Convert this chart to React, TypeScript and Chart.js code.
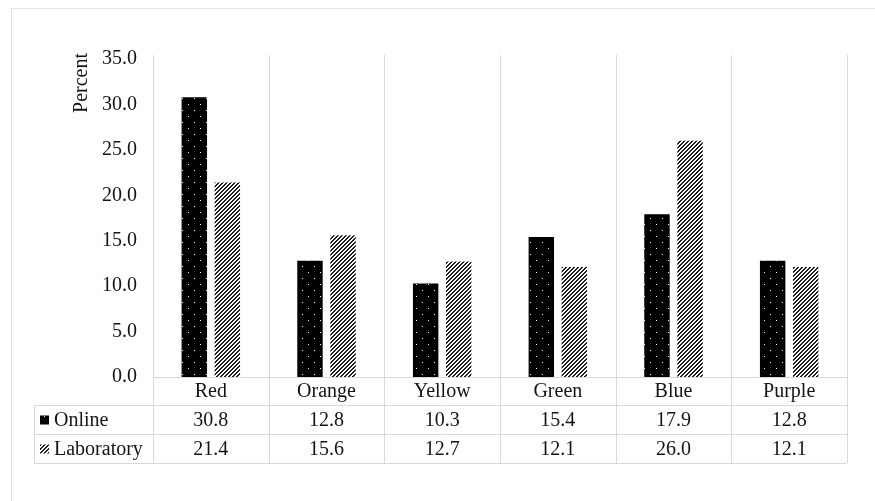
import React, { useEffect, useRef } from "react";
import { Chart, registerables } from "chart.js";

Chart.register(...registerables);

const categories = ["Red", "Orange", "Yellow", "Green", "Blue", "Purple"];
const online = [30.8, 12.8, 10.3, 15.4, 17.9, 12.8];
const laboratory = [21.4, 15.6, 12.7, 12.1, 26.0, 12.1];
const seriesNames = ["Online", "Laboratory"];
const yMin = 0;
const yMax = 35;
const yStep = 5;
const yTitle = "Percent";

const FONT = "'Liberation Serif', 'Times New Roman', serif";
const TEXT = "#141414";
const GRID = "#d9d9d9";
const FS = 20;

function makeDots(): CanvasPattern | string {
  const c = document.createElement("canvas");
  c.width = 12;
  c.height = 12;
  const g = c.getContext("2d");
  if (!g) return "#000";
  g.fillStyle = "#000";
  g.fillRect(0, 0, 12, 12);
  g.fillStyle = "#ffffff";
  g.fillRect(2, 2, 1, 1);
  g.fillRect(8, 8, 1, 1);
  return g.createPattern(c, "repeat") || "#000";
}

function makeStripes(): CanvasPattern | string {
  const c = document.createElement("canvas");
  c.width = 4;
  c.height = 4;
  const g = c.getContext("2d");
  if (!g) return "#444";
  g.fillStyle = "#ffffff";
  g.fillRect(0, 0, 4, 4);
  g.fillStyle = "#1e1e1e";
  for (let x = 0; x < 4; x++) {
    for (let y = 0; y < 4; y++) {
      const m = (x + y) % 4;
      if (m === 0 || m === 1) g.fillRect(x, y, 1, 1);
    }
  }
  return g.createPattern(c, "repeat") || "#444";
}

export default function App() {
  const ref = useRef<HTMLCanvasElement | null>(null);

  useEffect(() => {
    document.body.style.margin = "0";
    const canvas = ref.current;
    if (!canvas) return;
    const dots = makeDots();
    const stripes = makeStripes();
    const fills = [dots, stripes];
    const values = [online, laboratory];

    const tablePlugin = {
      id: "tablePlugin",
      beforeDatasetsDraw(chart: any) {
        const ctx = chart.ctx;
        const area = chart.chartArea;
        const xs = chart.scales.x;
        const cw = (area.right - area.left) / categories.length;
        const rowH = 29;
        const r1 = area.bottom + 28;
        const r2 = r1 + rowH;
        const r3 = r2 + rowH;
        const tableLeft = 34;
        ctx.save();
        // outer frame
        ctx.strokeStyle = "#e2e2e2";
        ctx.lineWidth = 1;
        ctx.beginPath();
        ctx.moveTo(11.5, 501);
        ctx.lineTo(11.5, 8.5);
        ctx.lineTo(875, 8.5);
        ctx.stroke();

        ctx.strokeStyle = GRID;
        ctx.beginPath();
        for (let i = 0; i <= categories.length; i++) {
          const x = Math.round(xs.getPixelForValue(i) - cw / 2) + 0.5;
          ctx.moveTo(x, area.top - 4);
          ctx.lineTo(x, r3);
        }
        ctx.moveTo(area.left, Math.round(area.bottom) + 0.5);
        ctx.lineTo(area.right, Math.round(area.bottom) + 0.5);
        [r1, r2, r3].forEach((y) => {
          ctx.moveTo(tableLeft, Math.round(y) + 0.5);
          ctx.lineTo(area.right, Math.round(y) + 0.5);
        });
        ctx.moveTo(tableLeft + 0.5, r1);
        ctx.lineTo(tableLeft + 0.5, r3);
        ctx.stroke();

        ctx.fillStyle = TEXT;
        ctx.font = `${FS}px ${FONT}`;
        ctx.textBaseline = "middle";
        ctx.textAlign = "center";
        categories.forEach((c, i) => {
          const cx = xs.getPixelForValue(i);
          ctx.fillText(c, cx, (area.bottom + r1) / 2 + 1);
          ctx.fillText(online[i].toFixed(1), cx, (r1 + r2) / 2 + 1);
          ctx.fillText(laboratory[i].toFixed(1), cx, (r2 + r3) / 2 + 1);
        });
        ctx.textAlign = "left";
        seriesNames.forEach((name, k) => {
          const top = k === 0 ? r1 : r2;
          const cy = top + rowH / 2;
          ctx.fillStyle = fills[k] as any;
          ctx.fillRect(40, cy - 4, 9, 9);
          ctx.fillStyle = TEXT;
          ctx.fillText(name, 54, cy + 1);
        });

        // y title
        ctx.save();
        ctx.translate(82, area.top - 6);
        ctx.rotate(-Math.PI / 2);
        ctx.textAlign = "right";
        ctx.textBaseline = "middle";
        ctx.font = `${FS}px ${FONT}`;
        ctx.fillStyle = TEXT;
        ctx.fillText(yTitle, 0, 0);
        ctx.restore();
        ctx.restore();
      },
    };

    const chart = new Chart(canvas, {
      type: "bar",
      data: {
        labels: categories,
        datasets: seriesNames.map((name, k) => ({
          label: name,
          data: values[k],
          backgroundColor: fills[k] as any,
          borderWidth: 0,
          categoryPercentage: 0.571,
          barPercentage: 0.77,
        })),
      },
      options: {
        responsive: false,
        animation: false,
        layout: { padding: { left: 0, top: 59, right: 28, bottom: 124 } },
        plugins: {
          legend: { display: false },
          tooltip: { enabled: false },
          title: { display: false },
        },
        scales: {
          x: {
            display: false,
            grid: { display: false },
          },
          y: {
            min: yMin,
            max: yMax,
            grid: { display: false, drawTicks: false },
            border: { display: false },
            afterFit(scale: any) {
              scale.width = 153;
            },
            ticks: {
              stepSize: yStep,
              padding: 16,
              color: TEXT,
              font: { family: FONT, size: FS },
              callback: (v: any) => Number(v).toFixed(1),
            },
          },
        },
      },
      plugins: [tablePlugin],
    });
    return () => chart.destroy();
  }, []);

  return (
    <div style={{ width: 875, height: 501 }}>
      <canvas ref={ref} width={875} height={501} />
    </div>
  );
}
